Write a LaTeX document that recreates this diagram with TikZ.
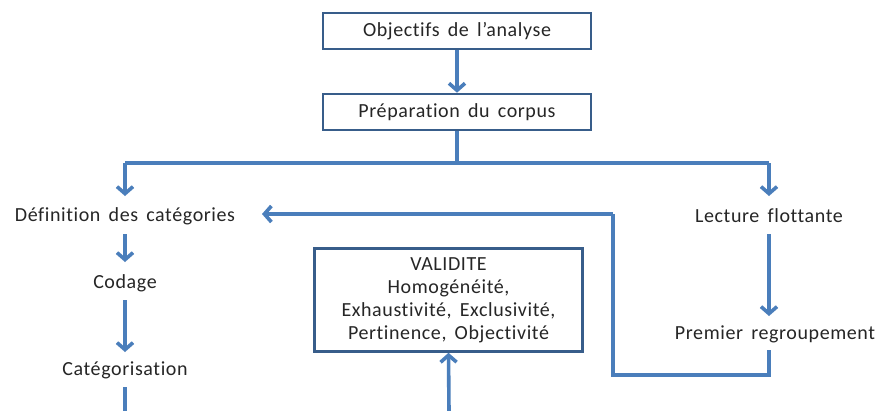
\documentclass[tikz,border=0pt]{standalone}
\usepackage{fontspec}
\setmainfont[Ligatures={NoCommon}, LetterSpace=3, WordSpace=1.6]{Carlito}
\usetikzlibrary{arrows.meta}
\definecolor{flow}{HTML}{4A7EBB}
\definecolor{frame}{HTML}{385D8A}
\definecolor{ink}{HTML}{262626}
\begin{document}
\begin{tikzpicture}[x=1pt,y=-1pt,
  every node/.style={font=\fontsize{20}{23}\selectfont, text=ink},
  stepbox/.style={draw=frame, line width=2.6pt, fill=white, minimum height=36pt, inner sep=0pt},
  label/.style={inner sep=1pt},
  link/.style={draw=flow, line width=3.6pt},
  arr/.style={link, -{Straight Barb[length=7pt,width=16pt]}}]
\useasboundingbox (0,0) rectangle (877,410);
\fill[white] (0,0) rectangle (877,410);

% boxes
\node[stepbox, minimum width=268pt] (obj) at (457,31) {Objectifs de l’analyse};
\node[stepbox, minimum width=268pt] (prep) at (457,112) {Préparation du corpus};
\node[stepbox, minimum width=268pt, minimum height=103pt, align=center] (val) at (448.5,300)
  {VALIDITE\\Homogénéité,\\Exhaustivité, Exclusivité,\\Pertinence, Objectivité};

% free-standing labels
\node[label] (def) at (125,216) {Définition des catégories};
\node[label] (cod) at (125,283) {Codage};
\node[label] (cat) at (125,370) {Catégorisation};
\node[label] (lec) at (769,216) {Lecture flottante};
\node[label] (prem) at (775,334) {Premier regroupement};

% branch points
\coordinate (split) at (457,163);
\coordinate (bl) at (125,163);
\coordinate (br) at (769,163);
\coordinate (loopA) at (613,214);
\coordinate (loopB) at (613,375);
\coordinate (loopC) at (769,375);
\coordinate (catend) at (125,412);
\coordinate (valstart) at (449,412);

% connectors
\draw[arr] (obj.south) -- (prep.north);
\draw[link] (prep.south) -- (split);
\draw[link] (bl) -- (br);
\draw[arr] (bl) -- (125,196);
\draw[arr] (br) -- (769,196);
\draw[arr] (125,234) -- (125,262);
\draw[arr] (125,300) -- (125,352);
\draw[link] (125,387) -- (catend);
\draw[arr] (valstart) -- (val.south);
\draw[arr] (769,234) -- (769,316);
\draw[link] (769,350) -- (loopC) -- (loopB) -- (loopA);
\draw[arr] (loopA) -- (262,214);
\end{tikzpicture}
\end{document}
